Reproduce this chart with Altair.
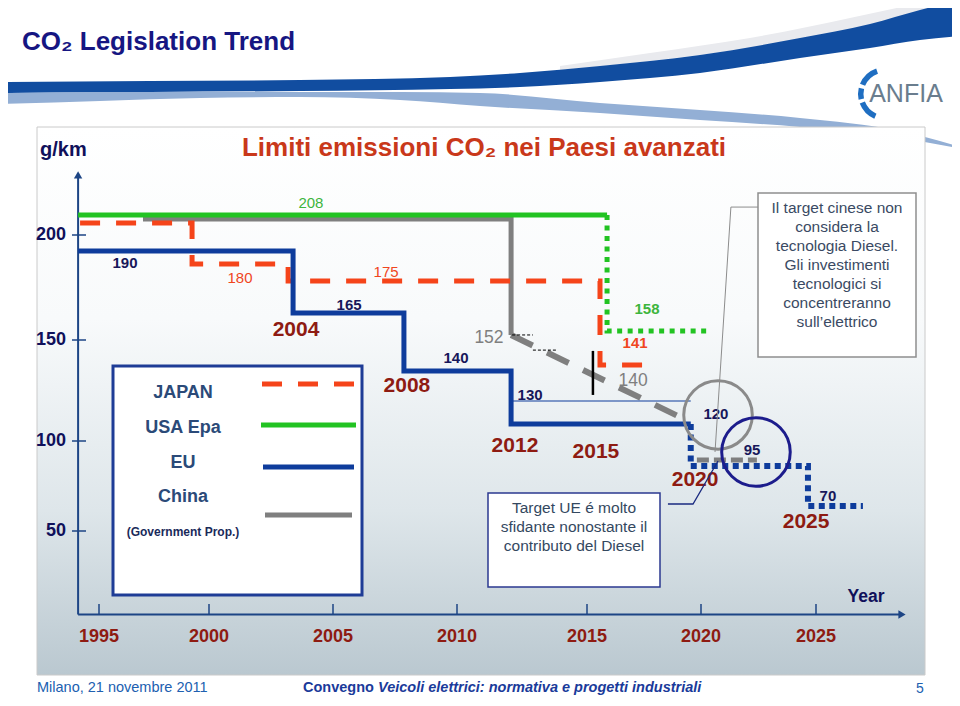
import altair as alt
import pandas as pd

M = 8  # page margin of the html page
FONT = "Liberation Sans, Arial, Helvetica, sans-serif"

# ------------------------------------------------------------------ data
year_ticks = [1995, 2000, 2005, 2010, 2015, 2020, 2025]
value_ticks = [50, 100, 150, 200]

series_names = ["JAPAN", "USA Epa", "EU", "China"]

japan_year = [1994.14, 1999.23, 1999.23, 2003.19, 2003.19, 2015.57, 2015.57, 2017.68]
japan_value = [205.7, 205.7, 186.2, 186.2, 178.1, 178.1, 137.6, 137.6]

usa_year = [1994.05, 2015.88]
usa_value = [209.5, 209.5]
usa_target_year = [2015.88, 2015.88, 2020.26]
usa_target_value = [209.5, 154.3, 154.3]

eu_year = [1994.05, 2003.39, 2003.39, 2007.86, 2007.86, 2012.08, 2012.08, 2019.55]
eu_value = [192.4, 192.4, 162.9, 162.9, 134.7, 134.7, 108.4, 108.4]
eu_target_year = [2019.55, 2019.55, 2024.65, 2024.65, 2027.04]
eu_target_value = [108.4, 86.1, 86.1, 63.9, 63.9]
eu_2015_year = [2012.08, 2019.55]
eu_2015_value = [119.8, 119.8]

china_year = [1997.0, 2012.08, 2012.08]
china_value = [207.6, 207.6, 152.4]
china_proj_year = [2012.08, 2019.25]
china_proj_value = [152.4, 110.9]
china_2020_year = [2019.82, 2022.43]
china_2020_value = [89.4, 89.4]

value_label_text = ["208", "190", "180", "175", "165", "140", "152", "130", "158", "141", "140", "120", "95", "70"]
value_label_series = ["USA Epa", "EU", "JAPAN", "JAPAN", "EU", "EU", "China", "EU", "USA Epa", "JAPAN", "China", "EU", "EU", "EU"]
value_label_year = [2004.11, 1996.18, 2001.25, 2007.14, 2005.65, 2009.96, 2011.23, 2012.81, 2017.63, 2017.11, 2017.02, 2020.65, 2022.22, 2025.52]
value_label_value = [215.2, 186.7, 179.5, 182.4, 166.7, 141.1, 151.0, 122.8, 164.8, 148.5, 129.7, 113.4, 95.0, 69.4]

milestone_text = ["2004", "2008", "2012", "2015", "2020", "2025"]
milestone_year = [2003.51, 2007.98, 2012.23, 2015.39, 2019.74, 2024.57]
milestone_value = [154.8, 127.2, 97.2, 93.9, 78.3, 55.0]

highlight_year = [2020.74, 2022.39]
highlight_value = [112.9, 93.9]

china_note = ["Il target cinese non", "considera la", "tecnologia  Diesel.", "Gli investimenti",
              "tecnologici  si", "concentreranno", "sull\u2019elettrico"]
eu_note = ["Target UE \u00e9 molto", "sfidante nonostante il", "contributo del Diesel"]

# ------------------------------------------------------------------ styles / layout
RED, GREEN, BLUE, GRAY = "#F5441A", "#22C322", "#0E3C9C", "#7F7F7F"
NAVY = "#17175A"
DARKRED = "#8E1B12"
AXIS = "#1D4585"
series_color = dict(zip(series_names, [RED, GREEN, BLUE, GRAY]))
label_color = {"JAPAN": "#F0461E", "USA Epa": "#3DB53D", "EU": NAVY, "China": GRAY}
regular_labels = {"208", "180", "175", "152", "140g"}

xs = alt.Scale(domain=year_ticks, range=[p - M for p in (99, 209, 333, 457, 587, 701, 816)],
               nice=False, zero=False)
ys = alt.Scale(domain=value_ticks, range=[p - M for p in (531, 441, 340, 235)],
               nice=False, zero=False)


def X(f="year"):
    return alt.X(f + ":Q", scale=xs, axis=None)


def Y(f="value"):
    return alt.Y(f + ":Q", scale=ys, axis=None)


ONE = alt.Data(values=[{"k": 1}])


def path(years, values, color, width, dash=None):
    df = pd.DataFrame({"year": years, "value": values, "i": list(range(len(years)))})
    kw = dict(color=color, strokeWidth=width, strokeCap="butt", strokeJoin="miter")
    if dash:
        kw["strokeDash"] = dash
    return alt.Chart(df).mark_line(**kw).encode(x=X(), y=Y(), order="i:Q")


def ptext(s, x, y, size, color, weight="bold", align="center", style=None):
    kw = dict(text=s, fontSize=size, color=color, fontWeight=weight, align=align,
              baseline="middle", font=FONT)
    if style:
        kw["fontStyle"] = style
    return alt.Chart(ONE).mark_text(**kw).encode(x=alt.value(x - M), y=alt.value(y - M))


def prect(x1, y1, x2, y2, fill, stroke=None, sw=1.0):
    kw = dict(fill=fill)
    if stroke:
        kw.update(stroke=stroke, strokeWidth=sw)
    return alt.Chart(ONE).mark_rect(**kw).encode(
        x=alt.value(x1 - M), x2=alt.value(x2 - M), y=alt.value(y1 - M), y2=alt.value(y2 - M))


def prule(x1, y1, x2, y2, color, width, dash=None):
    kw = dict(color=color, strokeWidth=width, strokeCap="butt")
    if dash:
        kw["strokeDash"] = dash
    return alt.Chart(ONE).mark_rule(**kw).encode(
        x=alt.value(x1 - M), x2=alt.value(x2 - M), y=alt.value(y1 - M), y2=alt.value(y2 - M))


def band(px, top, bot, color):
    df = pd.DataFrame({"sx": [v - M for v in px], "t": [v - M for v in top], "b": [v - M for v in bot]})
    return alt.Chart(df).mark_area(color=color, interpolate="monotone").encode(
        x=alt.X("sx:Q", scale=None), y=alt.Y("t:Q", scale=None), y2="b:Q")


layers = []

# ---- slide decoration: swoosh
layers.append(band([560, 650, 750, 850, 920, 952],
                   [66, 53, 38, 18, 2, -8],
                   [70, 61, 48, 31, 12, 2], "#E9EAEE"))
layers.append(band([0, 150, 300, 450, 520, 600, 700, 800, 870, 920, 960],
                   [82, 81, 80, 77, 73, 66, 55, 38, 24, 10, 0],
                   [93, 92, 91, 89, 87, 82, 73, 58, 48, 40, 36], "#114DA0"))
layers.append(band([0, 100, 200, 300, 400, 480, 600, 700, 800, 900, 957],
                   [93, 92, 92, 92, 92, 93, 103, 110, 118, 131, 146],
                   [104, 101, 98, 97, 100, 106, 113, 120, 127, 138, 148], "#93AFD5"))

# ---- slide title
layers.append(ptext("CO\u2082 Legislation Trend", 22, 42, 26, "#161682", align="left"))

# ---- ANFIA logo
for t1, t2 in [(3.55, 4.35), (4.5, 4.95), (5.1, 5.95)]:
    layers.append(alt.Chart(ONE).mark_arc(color="#1F6EC1", radius=27, radius2=21.5,
                                          theta=t1, theta2=t2)
                  .encode(x=alt.value(885 - M), y=alt.value(94 - M)))
layers.append(ptext("ANFIA", 906, 94, 25, "#6A7D8E", weight="normal"))

# ---- chart panel with gradient
grad = alt.Gradient(gradient="linear",
                    stops=[alt.GradientStop(color="#FFFFFF", offset=0),
                           alt.GradientStop(color="#F8FAFB", offset=0.35),
                           alt.GradientStop(color="#DEE6EA", offset=0.7),
                           alt.GradientStop(color="#BAC8D0", offset=1)],
                    x1=0, x2=0, y1=0, y2=1)
layers.append(alt.Chart(ONE).mark_rect(fill=grad, stroke="#CACACA", strokeWidth=1).encode(
    x=alt.value(37 - M), x2=alt.value(925 - M), y=alt.value(127 - M), y2=alt.value(675 - M)))

layers.append(ptext("Limiti emissioni CO\u2082 nei Paesi avanzati", 484, 148, 26, "#C9381A"))
layers.append(ptext("g/km", 40, 150, 20, "#10105A", align="left"))

# ---- legend box
layers.append(prect(113, 366, 362, 595, "white", "#1E3C96", 3))
legend_label_y = [393, 428, 463, 497]
legend_line_y = [384, 425, 467, 515]
legend_line_x = [(262, 355), (261, 356), (263, 354), (265, 352)]
for name, ly, lly, (x1, x2) in zip(series_names, legend_label_y, legend_line_y, legend_line_x):
    layers.append(ptext(name, 183, ly, 18, "#2B4A78"))
    layers.append(prule(x1, lly, x2, lly, series_color[name], 5,
                        [20, 16] if name == "JAPAN" else None))
layers.append(ptext("(Government Prop.)", 183, 532, 12, "#1A2A5A"))

# ---- note boxes
layers.append(prect(758, 193, 916, 357, "white", "#8E8E8E", 1.5))
for k, line in enumerate(china_note):
    layers.append(ptext(line, 837, 208 + 19 * k, 15.5, "#3A4A63", weight="normal"))
layers.append(prect(488, 493, 660, 587, "white", "#2B3990", 1.5))
for k, line in enumerate(eu_note):
    layers.append(ptext(line, 574, 508 + 19 * k, 15.5, "#34485F", weight="normal"))

# ---- axes (drawn on the data scales)
ax_x0, ax_y0 = 1994.05, 3.6
layers.append(path([ax_x0, ax_x0], [ax_y0, 228.6], AXIS, 2))
layers.append(path([ax_x0, 2028.74], [ax_y0, ax_y0], AXIS, 2))
layers.append(alt.Chart(pd.DataFrame({"year": [ax_x0], "value": [228.6]}))
              .mark_point(shape="triangle-up", filled=True, size=70, color=AXIS, opacity=1)
              .encode(x=X(), y=Y()))
layers.append(alt.Chart(pd.DataFrame({"year": [2028.74], "value": [ax_y0]}))
              .mark_point(shape="triangle-right", filled=True, size=70, color=AXIS, opacity=1)
              .encode(x=X(), y=Y()))
ytick_df = pd.DataFrame({"value": value_ticks, "label": [str(v) for v in value_ticks]})
layers.append(alt.Chart(ytick_df).mark_rule(color=AXIS, strokeWidth=1.5)
              .encode(y=Y(), x=alt.value(72 - M), x2=alt.value(86 - M)))
layers.append(alt.Chart(ytick_df).mark_text(align="right", baseline="middle", fontSize=18,
                                            fontWeight="bold", color="#10105A", font=FONT)
              .encode(y=Y(), x=alt.value(66 - M), text="label:N"))
xtick_df = pd.DataFrame({"year": year_ticks, "label": [str(v) for v in year_ticks]})
layers.append(alt.Chart(xtick_df).mark_rule(color=AXIS, strokeWidth=1.5)
              .encode(x=X(), y=alt.value(604 - M), y2=alt.value(614 - M)))
layers.append(alt.Chart(xtick_df).mark_text(align="center", baseline="middle", fontSize=18,
                                            fontWeight="bold", color=DARKRED, font=FONT)
              .encode(x=X(), y=alt.value(637 - M), text="label:N"))
layers.append(ptext("Year", 866, 597, 17.5, "#10105A"))

# ---- series
layers.append(path(china_year, china_value, GRAY, 5))
layers.append(path(china_proj_year, china_proj_value, GRAY, 6, [24, 16]))
layers.append(path(china_2020_year, china_2020_value, GRAY, 5, [12, 5]))
layers.append(path([2012.12, 2012.92], [152.4, 152.4], "black", 1, [3, 2]))
layers.append(path([2012.92, 2013.81], [145.0, 145.0], "black", 1, [3, 2]))
layers.append(path(usa_year, usa_value, GREEN, 5))
layers.append(path(usa_target_year, usa_target_value, GREEN, 5, [5, 5.5]))
layers.append(path(japan_year, japan_value, RED, 5, [20, 16]))
layers.append(path(eu_year, eu_value, BLUE, 5))
layers.append(path(eu_2015_year, eu_2015_value, BLUE, 1.2))
layers.append(path(eu_target_year, eu_target_value, BLUE, 6, [6, 4.5]))
layers.append(path([2015.26, 2015.26], [144.6, 122.8], "black", 2.5))

# ---- value labels
lab = pd.DataFrame({"text": value_label_text, "series": value_label_series,
                    "year": value_label_year, "value": value_label_value})
lab["key"] = [t + ("g" if s == "China" and t == "140" else "") for t, s in zip(lab.text, lab.series)]
for (ser, reg), sub in lab.groupby([lab.series, lab.key.isin(regular_labels)]):
    layers.append(alt.Chart(sub).mark_text(
        align="center", baseline="middle", font=FONT, color=label_color[ser],
        fontSize=17.5 if ser == "China" else 15, fontWeight="normal" if reg else "bold")
        .encode(x=X(), y=Y(), text="text:N"))
mil = pd.DataFrame({"text": milestone_text, "year": milestone_year, "value": milestone_value})
layers.append(alt.Chart(mil).mark_text(align="center", baseline="middle", font=FONT,
                                       color=DARKRED, fontSize=21, fontWeight="bold")
              .encode(x=X(), y=Y(), text="text:N"))

# ---- highlight circles and leader lines
hl = pd.DataFrame({"year": highlight_year, "value": highlight_value, "c": ["#8A8A8A", "#1C1C8C"]})
layers.append(alt.Chart(hl).mark_point(shape="circle", filled=False, size=4700, strokeWidth=3, opacity=1)
              .encode(x=X(), y=Y(), color=alt.Color("c:N", scale=None)))
layers.append(path([2022.48, 2021.30, 2020.61], [213.3, 213.3, 93.9], "#8C8C8C", 1))
layers.append(path([2018.55, 2019.65, 2020.74], [65.0, 65.0, 88.9], "#1A2A80", 1.3))

# ---- footer (kept inside the drawing area)
layers.append(ptext("Milano, 21 novembre 2011", 37, 688, 14.5, "#2060B0", weight="normal", align="left"))
layers.append(ptext("Convegno", 303, 688, 14.5, "#1A3A9A", align="left"))
layers.append(ptext("Veicoli elettrici: normativa e progetti industriali", 378, 688, 14.5, "#1A3A9A",
                    align="left", style="italic"))
layers.append(ptext("5", 920, 689, 14, "#2060B0", weight="normal"))

chart = (alt.layer(*layers)
         .resolve_scale(x="independent", y="independent", color="independent")
         .properties(width=944, height=690, padding=0, background="white",
                     autosize=alt.AutoSizeParams(type="none"))
         .configure_view(stroke=None))

chart.save("out.html", embed_options={"renderer": "svg", "actions": False})
